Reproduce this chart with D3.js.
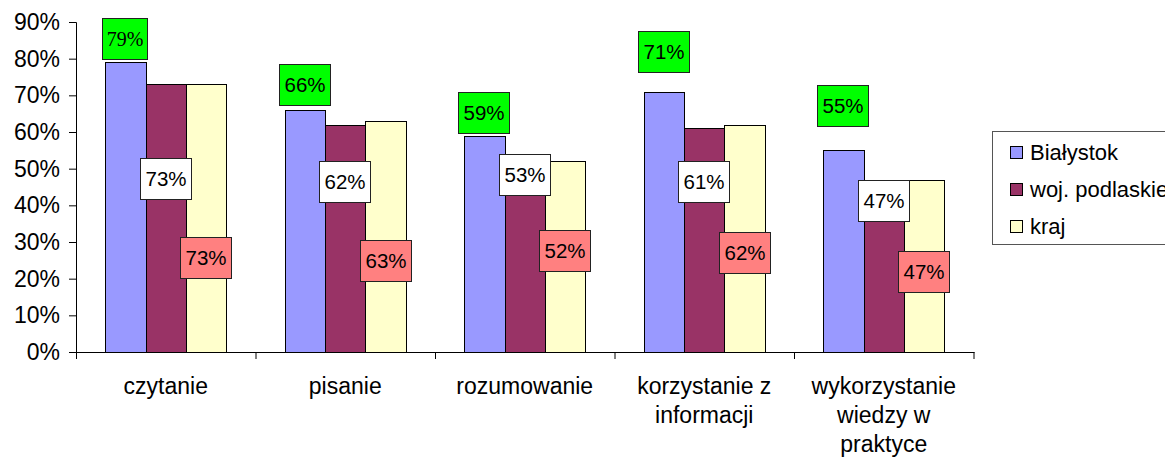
<!DOCTYPE html>
<html>
<head>
<meta charset="utf-8">
<script src="https://cdn.jsdelivr.net/npm/d3@7"></script>
<style>
  body { margin: 0; background: #fff; }
  text { font-family: 'Liberation Sans', Arial, sans-serif; fill: #000; }
</style>
</head>
<body>
<div id="chart"></div>
<script>
var categories = ['czytanie', 'pisanie', 'rozumowanie', 'korzystanie z informacji', 'wykorzystanie wiedzy w praktyce'];
var tickLabels = [['czytanie'], ['pisanie'], ['rozumowanie'], ['korzystanie z', 'informacji'], ['wykorzystanie', 'wiedzy w', 'praktyce']];
var seriesNames = ['Białystok', 'woj. podlaskie', 'kraj'];
var bialystok = [79, 66, 59, 71, 55];
var podlaskie = [73, 62, 53, 61, 47];
var kraj = [73, 63, 52, 62, 47];
var yTicks = [0, 10, 20, 30, 40, 50, 60, 70, 80, 90];

var series = [bialystok, podlaskie, kraj];
var colors = ['#9999FF', '#993366', '#FFFFCC'];
var labelFill = ['#00FF00', '#FFFFFF', '#FF8080'];

// label boxes were dragged by hand in the original, centre given in % units
var labelLevel = [
  [85.4, 72.7, 65.3, 81.8, 67.1],
  [47.3, 46.4, 48.3, 46.4, 41.3],
  [25.6, 24.8, 27.5, 27.0, 21.7]
];

var width = 1165, height = 457;

var svg = d3.select('#chart').append('svg')
  .attr('width', width)
  .attr('height', height);

var y = d3.scaleLinear().domain([0, 90]).range([352, 22]);

var x0 = d3.scaleBand().domain(categories).range([76, 973.5])
  .paddingInner(0.324).paddingOuter(0.162);
var x1 = d3.scaleBand().domain(d3.range(3)).range([0, x0.bandwidth()]);
var xb = d3.scaleLinear().domain([0, categories.length]).range([76, 973.5]);

// bars
var groups = svg.selectAll('g.group')
  .data(categories)
  .enter().append('g')
  .attr('class', 'group');

groups.selectAll('rect')
  .data(function(c, ci) { return series.map(function(s, si) { return {ci: ci, si: si, v: s[ci], c: c}; }); })
  .enter().append('rect')
  .attr('x', function(d) { return Math.round(x0(d.c) + x1(d.si)) + 0.5; })
  .attr('y', function(d) { return Math.round(y(d.v)) + 0.5; })
  .attr('width', function(d) { return Math.round(x0(d.c) + x1(d.si) + x1.bandwidth()) - Math.round(x0(d.c) + x1(d.si)); })
  .attr('height', function(d) { return Math.round(y(0)) - Math.round(y(d.v)); })
  .attr('fill', function(d) { return colors[d.si]; })
  .attr('stroke', '#000')
  .attr('stroke-width', 1);

// y axis
var yAxis = svg.append('g')
  .attr('transform', 'translate(76,0)')
  .call(d3.axisLeft(y).tickValues(yTicks).tickSize(7).tickPadding(9)
    .tickFormat(function(d) { return d + '%'; }));
yAxis.selectAll('text').style('font-size', '23px').attr('font-family', null);
yAxis.selectAll('line, path').attr('stroke', '#000');

// x axis: ticks at category boundaries, labels under the groups
var xAxis = svg.append('g')
  .attr('transform', 'translate(0,352)')
  .call(d3.axisBottom(xb).tickValues(d3.range(categories.length + 1)).tickSize(7).tickFormat(''));
xAxis.select('.domain').attr('d', 'M76.5,0.5H974.5');
xAxis.selectAll('line, path').attr('stroke', '#000');

var catText = svg.selectAll('text.cat')
  .data(categories)
  .enter().append('text')
  .attr('class', 'cat')
  .attr('text-anchor', 'middle')
  .style('font-size', '23px')
  .attr('transform', function(c) { return 'translate(' + (x0(c) + x0.bandwidth() / 2) + ',394)'; });
catText.each(function(c, i) {
  var t = d3.select(this);
  tickLabels[i].forEach(function(line, j) {
    t.append('tspan').attr('x', 0).attr('y', j * 29).text(line);
  });
});

// data labels
var labels = [];
series.forEach(function(s, si) {
  s.forEach(function(v, ci) {
    labels.push({si: si, ci: ci, v: v, c: categories[ci], serif: si === 0 && ci === 0});
  });
});

var lab = svg.selectAll('g.lab')
  .data(labels)
  .enter().append('g')
  .attr('class', 'lab')
  .attr('transform', function(d) {
    var cx = x0(d.c) + x1(d.si) + x1.bandwidth() / 2;
    return 'translate(' + Math.round(cx) + ',' + Math.round(y(labelLevel[d.si][d.ci])) + ')';
  });

lab.append('rect')
  .attr('x', function(d) { return d.serif ? -22.5 : -25.5; })
  .attr('y', -20.5)
  .attr('width', function(d) { return d.serif ? 45 : 51; })
  .attr('height', 41)
  .attr('fill', function(d) { return labelFill[d.si]; })
  .attr('stroke', '#222')
  .attr('stroke-width', 1);

lab.append('text')
  .attr('text-anchor', 'middle')
  .attr('y', 7)
  .style('font-size', function(d) { return d.serif ? '20px' : '20.5px'; })
  .style('font-family', function(d) { return d.serif ? "'Liberation Serif', 'Times New Roman', serif" : null; })
  .text(function(d) { return d.v + '%'; });

// legend
var legend = svg.append('g').attr('transform', 'translate(992,131)');
legend.append('rect')
  .attr('x', 0.5).attr('y', 0.5)
  .attr('width', 210).attr('height', 113)
  .attr('fill', '#fff')
  .attr('stroke', '#555')
  .attr('stroke-width', 1);

var items = legend.selectAll('g.item')
  .data(seriesNames)
  .enter().append('g')
  .attr('class', 'item')
  .attr('transform', function(d, i) { return 'translate(0,' + (21 + i * 37) + ')'; });

items.append('rect')
  .attr('x', 18.5).attr('y', -5.5)
  .attr('width', 12).attr('height', 12)
  .attr('fill', function(d, i) { return colors[i]; })
  .attr('stroke', '#000');

items.append('text')
  .attr('x', 38)
  .attr('y', 8)
  .style('font-size', '22px')
  .text(function(d) { return d; });
</script>
</body>
</html>
